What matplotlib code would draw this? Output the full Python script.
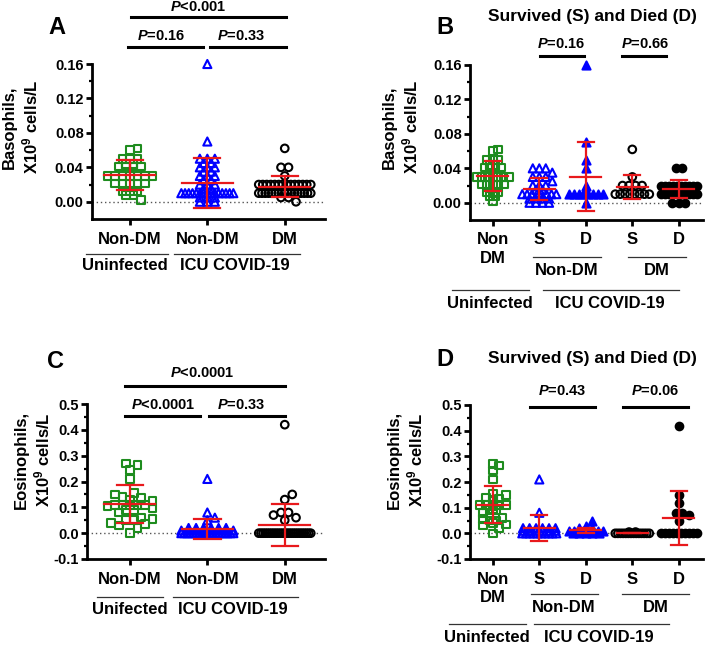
import numpy as np
import matplotlib
matplotlib.use("Agg")
import matplotlib.pyplot as plt
from matplotlib.lines import Line2D

plt.rcParams.update({
    "font.family": ["Liberation Sans", "DejaVu Sans"],
    "font.weight": "bold",
    "mathtext.fontset": "custom",
    "mathtext.rm": "Liberation Sans:bold",
    "mathtext.it": "Liberation Sans:bold:italic",
    "mathtext.bf": "Liberation Sans:bold",
    "axes.unicode_minus": False,
})

# ---------------- data ----------------
# Basophils, x10^9 cells/L
baso_uninf = [0.062, 0.060, 0.050, 0.050, 0.050, 0.044, 0.044, 0.041, 0.041, 0.041, 0.041,
              0.030, 0.030, 0.030, 0.030, 0.030, 0.030, 0.030,
              0.021, 0.021, 0.021, 0.021, 0.021, 0.012, 0.012, 0.012, 0.008, 0.008, 0.002]
baso_icu_nondm = [0.16, 0.07, 0.05, 0.05, 0.05, 0.045, 0.045, 0.04, 0.04, 0.04, 0.035, 0.035,
                  0.03, 0.03, 0.03, 0.025, 0.025, 0.02, 0.02, 0.02, 0.015, 0.015] + [0.01] * 15 + \
                 [0.005, 0.005, 0.005, 0.0, 0.0, 0.0]
baso_icu_dm = [0.062, 0.04, 0.04, 0.03] + [0.02] * 14 + [0.01] * 17 + [0.005, 0.005, 0.0]
baso_nondm_s = [0.04, 0.04, 0.04, 0.035, 0.03, 0.03, 0.03, 0.025, 0.02, 0.02, 0.02, 0.015, 0.015] + \
               [0.01] * 8 + [0.005] * 4 + [0.0] * 4
baso_nondm_d = [0.16, 0.07, 0.05, 0.04, 0.02] + [0.01] * 8 + [0.0]
baso_dm_s = [0.062, 0.03, 0.02, 0.02, 0.02, 0.02] + [0.01] * 8
baso_dm_d = [0.04, 0.04] + [0.02] * 10 + [0.01] * 10 + [0.0] * 3

# Eosinophils, x10^9 cells/L
eos_uninf = [0.27, 0.265, 0.245, 0.21, 0.155, 0.15, 0.14, 0.135, 0.13, 0.125, 0.11, 0.11, 0.11,
             0.105, 0.11, 0.11, 0.09, 0.095, 0.09, 0.08, 0.06, 0.05, 0.05, 0.055, 0.04, 0.035,
             0.03, 0.02, 0.0]
eos_icu_nondm = [0.21, 0.08, 0.06, 0.05] + [0.02] * 6 + [0.01] * 8 + [0.0] * 19
eos_icu_dm = [0.42, 0.15, 0.13, 0.08, 0.08, 0.07, 0.06, 0.05] + [0.0] * 25
eos_nondm_s = [0.21, 0.08] + [0.02] * 6 + [0.01] * 6 + [0.0] * 10
eos_nondm_d = [0.05, 0.03, 0.02, 0.02, 0.02] + [0.01] * 8 + [0.0] * 5
eos_dm_s = [0.005, 0.005] + [0.0] * 14
eos_dm_d = [0.42, 0.15, 0.12, 0.08, 0.08, 0.07, 0.05] + [0.0] * 10

# mean and SD (red bars)
baso_mean_A = [0.031, 0.022, 0.0175]
baso_sd_A = [0.017, 0.029, 0.0125]
baso_mean_B = [0.031, 0.016, 0.030, 0.018, 0.016]
baso_sd_B = [0.017, 0.013, 0.040, 0.014, 0.011]
eos_mean_C = [0.112, 0.016, 0.032]
eos_sd_C = [0.073, 0.037, 0.082]
eos_mean_D = [0.112, 0.022, 0.012, 0.0006, 0.058]
eos_sd_D = [0.073, 0.050, 0.009, 0.001, 0.105]

labels_3 = ["Non-DM", "Non-DM", "DM"]
labels_5 = ["Non\nDM", "S", "D", "S", "D"]

GREEN = "#1e8c1e"
BLUE = "#0000ff"
BLACK = "#000000"
RED = "#e8191c"

W, H = 708, 645
fig = plt.figure(figsize=(W / 100, H / 100), dpi=100)


def fx(px):
    return px / W


def fy(py):
    return 1 - py / H


def swarm_x(ax, vals, center, d_px, maxw_px):
    """Beeswarm offsets computed in pixel space: rows of equal values are spread
    symmetrically (compressed to maxw), single values avoid collisions."""
    vals = np.round(np.asarray(vals, float), 5)
    tr = ax.transData
    x0 = tr.transform((center, 0))[0]
    xpx_per_unit = tr.transform((center + 1, 0))[0] - x0
    ypix = np.array([tr.transform((center, v))[1] for v in vals])
    offs = np.zeros(len(vals))
    placed = []  # (xoff, ypix)
    uniq, counts = np.unique(vals, return_counts=True)
    order = np.argsort(-counts, kind="stable")
    half = maxw_px / 2
    for k in order:
        v = uniq[k]
        idx = np.where(vals == v)[0]
        n = len(idx)
        yp = ypix[idx[0]]
        if n > 1:
            step = min(d_px, maxw_px / (n - 1))
            xs = np.linspace(-(n - 1) * step / 2, (n - 1) * step / 2, n)
            for i, xo in zip(idx, xs):
                offs[i] = xo
                placed.append((xo, yp))
        else:
            best = 0.0
            cands = [0.0]
            j = 1
            while j * d_px / 2 <= half + 0.01:
                cands += [j * d_px / 2, -j * d_px / 2]
                j += 1
            for c in cands:
                if all((c - px) ** 2 + (yp - py) ** 2 >= (0.95 * d_px) ** 2 for px, py in placed):
                    best = c
                    break
            offs[idx[0]] = best
            placed.append((best, yp))
    return center + offs / xpx_per_unit


def make_axes(rect, xlim, ylim, majors, minors, fmt):
    ax = fig.add_axes(rect)
    ax.set_xlim(*xlim)
    ax.set_ylim(*ylim)
    for s in ("top", "right"):
        ax.spines[s].set_visible(False)
    for s in ("left", "bottom"):
        ax.spines[s].set_linewidth(2.0)
    ax.set_yticks(majors)
    ax.set_yticklabels([fmt.format(t) for t in majors], fontsize=10.5, fontweight="bold")
    ax.set_yticks(minors, minor=True)
    ax.tick_params(axis="y", which="major", length=4, width=2.0, pad=2)
    ax.tick_params(axis="y", which="minor", length=2.5, width=1.6)
    ax.tick_params(axis="x", which="major", length=4, width=2.0, pad=5)
    ax.axhline(0, color="#555555", ls=(0, (1, 2)), lw=1.0, zorder=1)
    return ax


def draw_group(ax, vals, center, marker, color, filled, d_px, maxw_px, size):
    xs = swarm_x(ax, vals, center, d_px, maxw_px)
    ax.scatter(xs, vals, marker=marker, s=size,
               facecolors=color if filled else "none", edgecolors=color,
               linewidths=1.5, zorder=3, clip_on=False)


def draw_err(ax, center, m, s):
    ax.plot([center, center], [m - s, m + s], color=RED, lw=1.6, zorder=4, solid_capstyle="butt")
    ax.plot([center - 0.33, center + 0.33], [m, m], color=RED, lw=1.6, zorder=4)
    for yy in (m - s, m + s):
        ax.plot([center - 0.17, center + 0.17], [yy, yy], color=RED, lw=1.6, zorder=4)


def hline(x0, x1, y, lw=2.2, color="black"):
    fig.add_artist(Line2D([fx(x0), fx(x1)], [fy(y), fy(y)], transform=fig.transFigure,
                          color=color, lw=lw))


def ftext(x, y, s, size, **kw):
    fig.text(fx(x), fy(y), s, fontsize=size, fontweight="bold", ha="center", va="center", **kw)


D_PX = 7.5
SQ, TRI, CIR = 30, 34, 30

# ---------------- panel A ----------------
axA = make_axes([fx(92), fy(219), fx(325) - fx(92), (219 - 64) / H], (-0.49, 2.52), (-0.02, 0.16),
                [0.0, 0.04, 0.08, 0.12, 0.16], [0.02, 0.06, 0.10, 0.14], "{:.2f}")
draw_group(axA, baso_uninf, 0, "s", GREEN, False, D_PX, 52, SQ)
draw_group(axA, baso_icu_nondm, 1, "^", BLUE, False, D_PX, 52, TRI)
draw_group(axA, baso_icu_dm, 2, "o", BLACK, False, D_PX, 52, CIR)
for i in range(3):
    draw_err(axA, i, baso_mean_A[i], baso_sd_A[i])
axA.set_xticks(range(3))
axA.set_xticklabels(labels_3, fontsize=12, fontweight="bold")

# ---------------- panel B ----------------
axB = make_axes([fx(470), fy(220), fx(703) - fx(470), (220 - 65) / H], (-0.49, 4.52), (-0.02, 0.16),
                [0.0, 0.04, 0.08, 0.12, 0.16], [0.02, 0.06, 0.10, 0.14], "{:.2f}")
draw_group(axB, baso_uninf, 0, "s", GREEN, False, 5.5, 32, SQ)
draw_group(axB, baso_nondm_s, 1, "^", BLUE, False, 6.5, 34, TRI)
draw_group(axB, baso_nondm_d, 2, "^", BLUE, True, 6.5, 34, TRI)
draw_group(axB, baso_dm_s, 3, "o", BLACK, False, 6.5, 34, CIR)
draw_group(axB, baso_dm_d, 4, "o", BLACK, True, 6.5, 36, CIR)
for i in range(5):
    draw_err(axB, i, baso_mean_B[i], baso_sd_B[i])
axB.set_xticks(range(5))
axB.set_xticklabels(labels_5, fontsize=12, fontweight="bold", linespacing=1.3)

# ---------------- panel C ----------------
axC = make_axes([fx(87), fy(559), fx(325) - fx(87), (559 - 404) / H], (-0.555, 2.52), (-0.1, 0.5),
                [-0.1, 0.0, 0.1, 0.2, 0.3, 0.4, 0.5],
                [-0.05, 0.05, 0.15, 0.25, 0.35, 0.45], "{:.1f}")
draw_group(axC, eos_uninf, 0, "s", GREEN, False, D_PX, 52, SQ)
draw_group(axC, eos_icu_nondm, 1, "^", BLUE, False, D_PX, 52, TRI)
draw_group(axC, eos_icu_dm, 2, "o", BLACK, False, D_PX, 52, CIR)
for i in range(3):
    draw_err(axC, i, eos_mean_C[i], eos_sd_C[i])
axC.set_xticks(range(3))
axC.set_xticklabels(labels_3, fontsize=12, fontweight="bold")

# ---------------- panel D ----------------
axD = make_axes([fx(470), fy(559), fx(703) - fx(470), (559 - 405) / H], (-0.49, 4.52), (-0.1, 0.5),
                [-0.1, 0.0, 0.1, 0.2, 0.3, 0.4, 0.5],
                [-0.05, 0.05, 0.15, 0.25, 0.35, 0.45], "{:.1f}")
draw_group(axD, eos_uninf, 0, "s", GREEN, False, 6.5, 32, SQ)
draw_group(axD, eos_nondm_s, 1, "^", BLUE, False, 6.5, 34, TRI)
draw_group(axD, eos_nondm_d, 2, "^", BLUE, True, 6.5, 34, TRI)
draw_group(axD, eos_dm_s, 3, "o", BLACK, False, 6.5, 34, CIR)
draw_group(axD, eos_dm_d, 4, "o", BLACK, True, 6.5, 36, CIR)
for i in range(5):
    draw_err(axD, i, eos_mean_D[i], eos_sd_D[i])
axD.set_xticks(range(5))
axD.set_xticklabels(labels_5, fontsize=12, fontweight="bold", linespacing=1.3)

# ---------------- y labels ----------------
for (x, y, name) in [(21, 127, "Basophils,"), (401, 127, "Basophils,"),
                     (33, 460, "Eosinophils,"), (406, 460, "Eosinophils,")]:
    fig.text(fx(x), fy(y), name + "\n" + r"X10$^{9}$ cells/L", fontsize=12, fontweight="bold",
             rotation=90, ha="center", va="center", multialignment="center", linespacing=1.25)

# ---------------- panel letters and titles ----------------
ftext(57, 27, "A", 17)
ftext(445, 27, "B", 17)
ftext(55, 362, "C", 17)
ftext(445, 359, "D", 17)
ftext(592, 17, "Survived (S) and Died (D)", 12.5)
ftext(592, 359, "Survived (S) and Died (D)", 12.5)

# ---------------- significance bars ----------------
hline(131, 286, 17)
ftext(198, 7, r"$P$<0.001", 10.5)
hline(128, 203, 47)
hline(210, 286, 47)
ftext(161, 36, r"$P$=0.16", 10.5)
ftext(241, 36, r"$P$=0.33", 10.5)

hline(540, 584, 56)
hline(622, 666, 56)
ftext(561, 44, r"$P$=0.16", 10.5)
ftext(645, 44, r"$P$=0.66", 10.5)

hline(125, 285, 386)
ftext(202, 373, r"$P$<0.0001", 10.5)
hline(125, 200, 416)
hline(209, 285, 416)
ftext(163, 405, r"$P$<0.0001", 10.5)
ftext(241, 405, r"$P$=0.33", 10.5)

hline(530, 595, 407)
hline(623, 688, 407)
ftext(562, 391, r"$P$=0.43", 10.5)
ftext(655, 391, r"$P$=0.06", 10.5)

# ---------------- group labels under x axes ----------------
THIN = dict(lw=0.9, color="#333333")
# A
hline(86, 168, 254, **THIN)
hline(174, 300, 254, **THIN)
ftext(125, 266, "Uninfected", 12)
ftext(235, 266, "ICU COVID-19", 12)
# C
hline(97, 163, 597, **THIN)
hline(173, 298, 597, **THIN)
ftext(130, 610, "Unifected", 12)
ftext(233, 610, "ICU COVID-19", 12)
# B
hline(533, 601, 257, **THIN)
hline(628, 686, 257, **THIN)
ftext(567, 270, "Non-DM", 12)
ftext(657, 270, "DM", 12)
hline(452, 529, 290, **THIN)
hline(543, 679, 290, **THIN)
ftext(490, 304, "Uninfected", 12)
ftext(610, 304, "ICU COVID-19", 12)
# D
hline(531, 598, 594, **THIN)
hline(622, 689, 594, **THIN)
ftext(564, 607, "Non-DM", 12)
ftext(656, 607, "DM", 12)
hline(449, 526, 624, **THIN)
hline(534, 669, 624, **THIN)
ftext(487, 637, "Uninfected", 12)
ftext(599, 637, "ICU COVID-19", 12)

fig.savefig("out.png", dpi=100)
